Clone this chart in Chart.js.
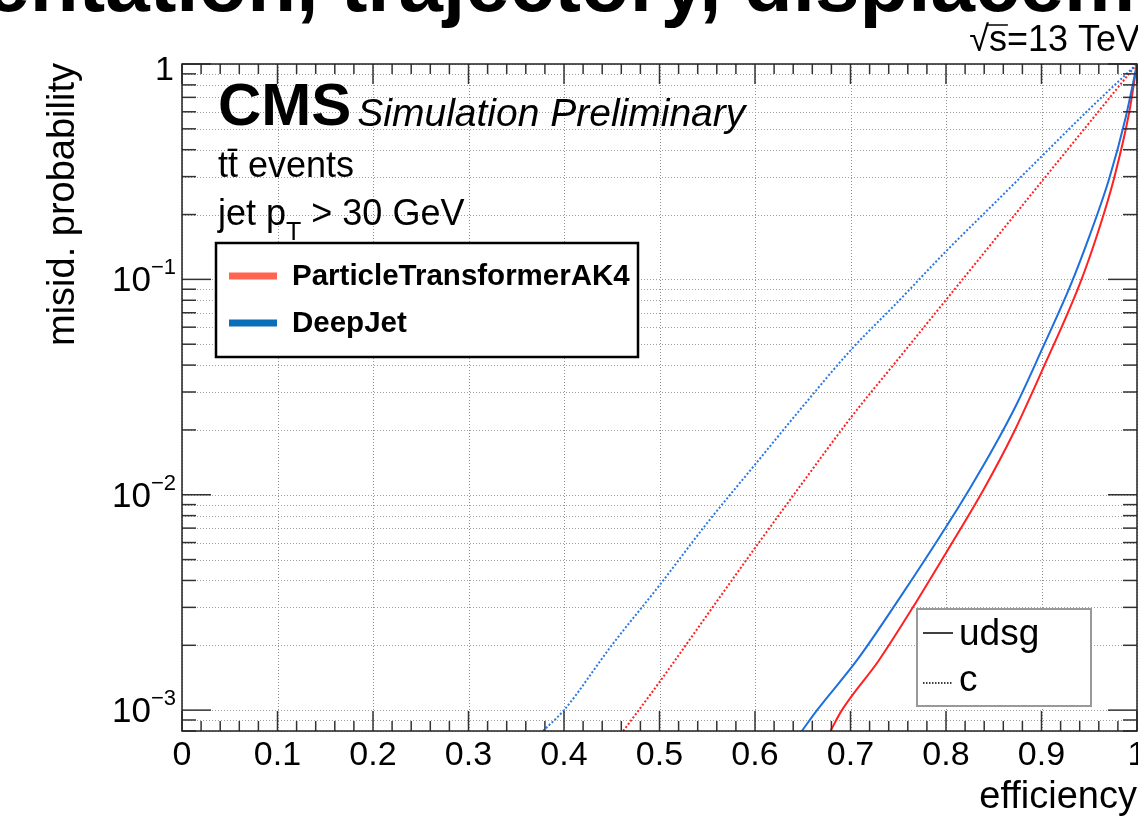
<!DOCTYPE html>
<html>
<head>
<meta charset="utf-8">
<style>
  html, body { margin: 0; padding: 0; background: #fff; }
  #wrap { width: 1138px; height: 816px; position: relative; overflow: hidden; }
</style>
<script src="https://cdn.jsdelivr.net/npm/chart.js@4.4.1/dist/chart.umd.min.js"></script>
</head>
<body>
<div id="wrap"><canvas id="roc" width="1138" height="816"></canvas></div>
<script>
// axis ranges and tick labels
const X_MIN = 0;
const X_MAX = 1;
const Y_MIN = 8e-4;
const Y_MAX = 1;
const xTickValues = [0, 0.1, 0.2, 0.3, 0.4, 0.5, 0.6, 0.7, 0.8, 0.9, 1];
const xTickLabels = ['0', '0.1', '0.2', '0.3', '0.4', '0.5', '0.6', '0.7', '0.8', '0.9', '1'];
const yDecades = [1e-3, 1e-2, 1e-1];
const yDecadeExponents = ['\u22123', '\u22122', '\u22121'];

// ParticleTransformerAK4, udsg (solid red)
const partUdsgEff = [0.679, 0.691, 0.73, 0.77, 0.80, 0.84, 0.87, 0.90, 0.94, 0.96, 0.976, 0.9916, 1.0];
const partUdsgMisid = [8e-4, 1e-3, 1.71e-3, 3.24e-3, 5.37e-3, 1.07e-2, 1.91e-2, 3.72e-2, 9.5e-2, 0.17, 0.295, 0.589, 1.0];

// DeepJet, udsg (solid blue)
const deepUdsgEff = [0.649, 0.665, 0.707, 0.75, 0.80, 0.825, 0.85, 0.875, 0.90, 0.93, 0.95, 0.971, 0.988, 1.0];
const deepUdsgMisid = [8e-4, 1e-3, 1.71e-3, 3.24e-3, 7.08e-3, 1.07e-2, 1.66e-2, 2.69e-2, 4.68e-2, 9.3e-2, 0.158, 0.295, 0.562, 1.0];

// ParticleTransformerAK4, c (dotted red)
const partCEff = [0.462, 0.50, 0.55, 0.60, 0.65, 0.70, 0.75, 0.80, 0.85, 0.90, 0.95, 1.0];
const partCMisid = [8e-4, 1.35e-3, 2.77e-3, 5.66e-3, 1.14e-2, 2.27e-2, 4.27e-2, 8.03e-2, 0.151, 0.284, 0.533, 1.0];

// DeepJet, c (dotted blue)
const deepCEff = [0.378, 0.40, 0.45, 0.50, 0.55, 0.60, 0.65, 0.70, 0.75, 0.80, 0.85, 0.90, 0.95, 1.0];
const deepCMisid = [8e-4, 1.0e-3, 2.0e-3, 3.8e-3, 7.4e-3, 1.38e-2, 2.57e-2, 4.68e-2, 7.9e-2, 0.135, 0.224, 0.372, 0.617, 1.0];

const RED = '#ff2020';
const BLUE = '#1c6fdc';
const FONT = '"Liberation Sans", Arial, Helvetica, sans-serif';

function points(xs, ys) {
  return xs.map((x, i) => ({ x, y: ys[i] }));
}

function line(ctx, x1, y1, x2, y2) {
  ctx.beginPath();
  ctx.moveTo(x1, y1);
  ctx.lineTo(x2, y2);
  ctx.stroke();
}

// all y values 1..9 x 10^k inside the range
function yMinorValues() {
  const out = [];
  for (let k = -4; k <= 0; k++) {
    for (let m = 1; m <= 9; m++) {
      const v = m * Math.pow(10, k);
      if (v >= Y_MIN * 0.999 && v <= Y_MAX * 1.001) out.push({ v, major: m === 1 });
    }
  }
  return out;
}

const rootFrame = {
  id: 'rootFrame',
  beforeDatasetsDraw(chart) {
    const { ctx, chartArea: a, scales: { x, y } } = chart;
    ctx.save();
    ctx.lineWidth = 1;
    ctx.setLineDash([1, 2]);
    ctx.strokeStyle = '#909090';
    xTickValues.forEach((v) => {
      const px = Math.round(x.getPixelForValue(v)) + 0.5;
      line(ctx, px, a.top, px, a.bottom);
    });
    ctx.strokeStyle = '#a0a0a0';
    yMinorValues().forEach(({ v }) => {
      const py = Math.round(y.getPixelForValue(v)) + 0.5;
      line(ctx, a.left, py, a.right, py);
    });
    ctx.restore();
  },
  afterDatasetsDraw(chart) {
    const { ctx, chartArea: a, scales: { x, y } } = chart;
    ctx.save();

    // ticks
    ctx.strokeStyle = '#333';
    ctx.lineWidth = 1.5;
    for (let i = 0; i <= 50; i++) {
      const v = i / 50;
      const px = x.getPixelForValue(v);
      const len = i % 5 === 0 ? 20 : 10;
      line(ctx, px, a.bottom, px, a.bottom - len);
      line(ctx, px, a.top, px, a.top + len);
    }
    yMinorValues().forEach(({ v, major }) => {
      const py = y.getPixelForValue(v);
      const len = major ? 29 : 14;
      line(ctx, a.left, py, a.left + len, py);
      line(ctx, a.right, py, a.right - len, py);
    });

    // frame
    ctx.strokeStyle = '#222';
    ctx.lineWidth = 1.5;
    ctx.strokeRect(a.left, a.top, a.right - a.left, a.bottom - a.top);

    // x tick labels
    ctx.fillStyle = '#000';
    ctx.font = `34px ${FONT}`;
    ctx.textAlign = 'center';
    ctx.textBaseline = 'alphabetic';
    xTickValues.forEach((v, i) => {
      ctx.fillText(xTickLabels[i], x.getPixelForValue(v), 765);
    });

    // y tick labels
    const labelRight = 176;
    ctx.textAlign = 'right';
    yDecades.forEach((v, i) => {
      const py = y.getPixelForValue(v);
      ctx.font = `22px ${FONT}`;
      const supW = ctx.measureText(yDecadeExponents[i]).width;
      ctx.fillText(yDecadeExponents[i], labelRight, py - 5);
      ctx.font = `35px ${FONT}`;
      ctx.fillText('10', labelRight - supW, py + 12);
    });
    ctx.font = `34px ${FONT}`;
    ctx.fillText('1', labelRight - 2, y.getPixelForValue(1) + 16);

    // axis titles
    ctx.font = `38px ${FONT}`;
    ctx.textAlign = 'right';
    ctx.fillText('efficiency', a.right, 808);
    ctx.save();
    ctx.translate(74, a.top - 1);
    ctx.rotate(-Math.PI / 2);
    ctx.fillText('misid. probability', 0, 0);
    ctx.restore();

    // energy, with the bar of the square root over s
    ctx.font = `36px ${FONT}`;
    ctx.textAlign = 'left';
    const eText = '\u221As=13 TeV';
    const eX = 1140 - ctx.measureText(eText).width;
    ctx.fillText(eText, eX, 51);
    const rootW = ctx.measureText('\u221A').width;
    const sW = ctx.measureText('s').width;
    ctx.strokeStyle = '#000';
    ctx.lineWidth = 1.5;
    line(ctx, eX + rootW - 1, 25, eX + rootW + sW + 1, 25);

    // CMS labels
    ctx.textAlign = 'left';
    ctx.font = `bold 60px ${FONT}`;
    ctx.fillText('CMS', 218, 125);
    const cmsW = ctx.measureText('CMS').width;
    ctx.font = `italic 39px ${FONT}`;
    ctx.fillText('Simulation Preliminary', 218 + cmsW + 6, 126);

    ctx.font = `36px ${FONT}`;
    ctx.fillText('tt\u0304 events', 218, 177);
    ctx.fillText('jet p', 218, 225);
    const jpW = ctx.measureText('jet p').width;
    ctx.font = `25px ${FONT}`;
    ctx.fillText('T', 218 + jpW, 240);
    const tW = ctx.measureText('T').width;
    ctx.font = `36px ${FONT}`;
    ctx.fillText(' > 30 GeV', 218 + jpW + tW, 225);

    // tagger legend
    ctx.fillStyle = '#fff';
    ctx.fillRect(216, 243, 422, 114);
    ctx.strokeStyle = '#000';
    ctx.lineWidth = 2.5;
    ctx.strokeRect(216, 243, 422, 114);
    ctx.lineWidth = 7;
    ctx.strokeStyle = '#ff6450';
    line(ctx, 229, 276, 277, 276);
    ctx.strokeStyle = '#0a6fb8';
    line(ctx, 229, 323, 277, 323);
    ctx.fillStyle = '#000';
    ctx.font = `bold 29.5px ${FONT}`;
    ctx.fillText('ParticleTransformerAK4', 292, 285);
    ctx.fillText('DeepJet', 292, 332);

    // flavour legend
    ctx.fillStyle = '#fff';
    ctx.fillRect(917, 609, 174, 97);
    ctx.strokeStyle = '#999';
    ctx.lineWidth = 2;
    ctx.strokeRect(917, 609, 174, 97);
    ctx.strokeStyle = '#000';
    ctx.lineWidth = 1.5;
    line(ctx, 923, 633, 953, 633);
    ctx.setLineDash([1.5, 1.5]);
    line(ctx, 923, 683, 953, 683);
    ctx.setLineDash([]);
    ctx.fillStyle = '#000';
    ctx.font = `37px ${FONT}`;
    ctx.fillText('udsg', 959, 645);
    ctx.fillText('c', 959, 691);

    // cropped slide title at the very top
    ctx.font = `bold 80px ${FONT}`;
    ctx.textAlign = 'center';
    ctx.fillText('orientation, trajectory, displacement', 569, 11);

    ctx.restore();
  },
};

const commonLine = { pointRadius: 0, borderWidth: 2, fill: false, cubicInterpolationMode: 'monotone' };

new Chart(document.getElementById('roc'), {
  type: 'line',
  data: {
    datasets: [
      { ...commonLine, label: 'DeepJet c', data: points(deepCEff, deepCMisid), borderColor: '#2a78e0', borderDash: [2, 2] },
      { ...commonLine, label: 'ParticleTransformerAK4 c', data: points(partCEff, partCMisid), borderColor: RED, borderDash: [2, 2] },
      { ...commonLine, label: 'DeepJet udsg', data: points(deepUdsgEff, deepUdsgMisid), borderColor: BLUE },
      { ...commonLine, label: 'ParticleTransformerAK4 udsg', data: points(partUdsgEff, partUdsgMisid), borderColor: RED },
    ],
  },
  options: {
    responsive: false,
    animation: false,
    layout: { padding: { left: 182, right: 1, top: 64, bottom: 85 } },
    scales: {
      x: { type: 'linear', min: X_MIN, max: X_MAX, display: false },
      y: { type: 'logarithmic', min: Y_MIN, max: Y_MAX, display: false },
    },
    plugins: { legend: { display: false }, tooltip: { enabled: false } },
  },
  plugins: [rootFrame],
});
</script>
</body>
</html>
